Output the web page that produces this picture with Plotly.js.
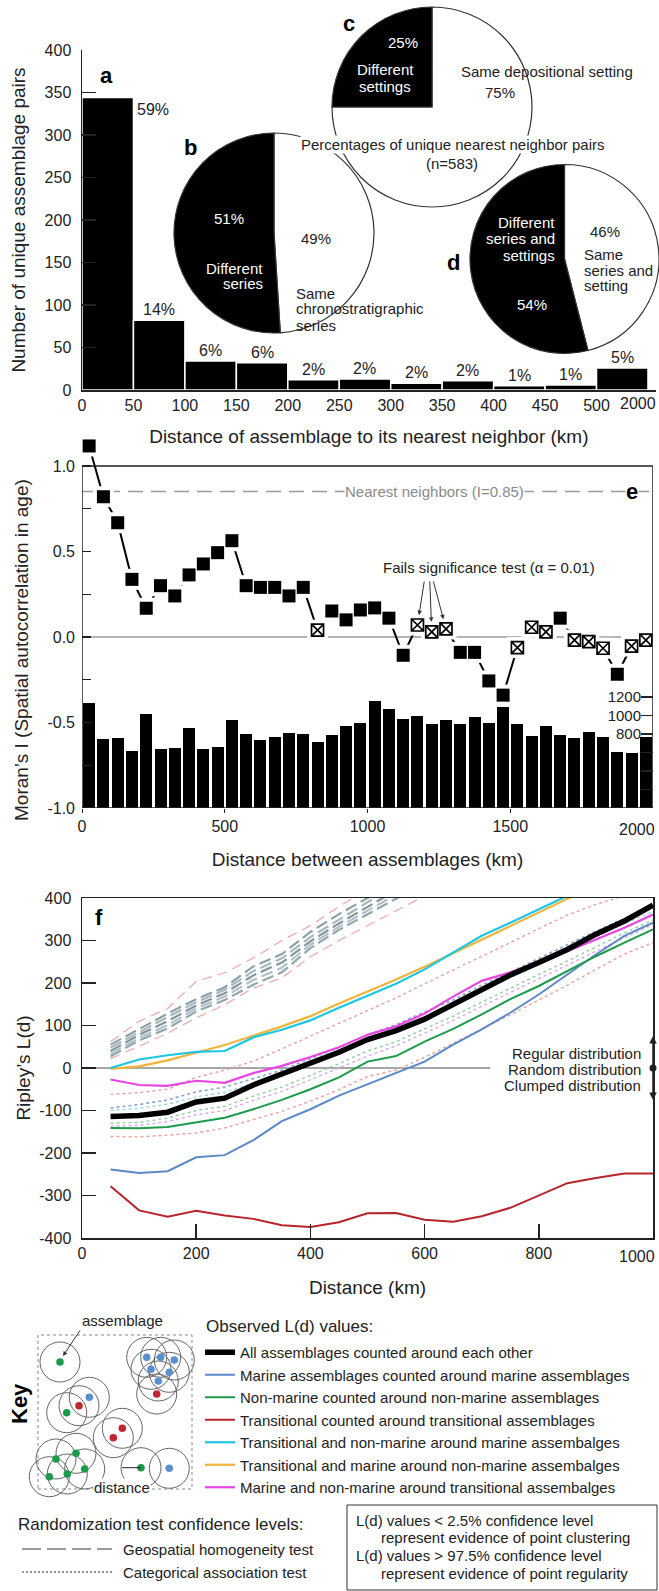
<!DOCTYPE html>
<html><head><meta charset="utf-8">
<script src="https://cdn.plot.ly/plotly-3.0.1.min.js"></script>
<style>html,body{margin:0;padding:0;background:#fff}#chart{width:659px;height:1591px}</style>
</head><body><div id="chart"></div>
<script>
// ---------------- DATA ----------------
// Panel a: nearest-neighbour distance histogram
const nnBinEdges = ['0','50','100','150','200','250','300','350','400','450','500','2000'];
const nnPairCounts = [344, 82, 34, 32, 12, 13, 8, 11, 5, 6, 26];
const nnPairPct = ['59%','14%','6%','6%','2%','2%','2%','2%','1%','1%','5%'];

// Panels b, c, d: pies (white "same" slice first, black "different" slice second)
const seriesPieLabels = ['Same chronostratigraphic series', 'Different series'];
const seriesPieValues = [49, 51];
const settingPieLabels = ['Same depositional setting', 'Different settings'];
const settingPieValues = [75, 25];
const bothPieLabels = ['Same series and setting', 'Different series and settings'];
const bothPieValues = [46, 54];

// Panel e: Moran's I correlogram
const moranDist = [25,75,125,175,225,275,325,375,425,475,525,575,625,675,725,775,825,875,925,975,
                   1025,1075,1125,1175,1225,1275,1325,1375,1425,1475,1525,1575,1625,1675,1725,1775,1825,1875,1925,1975];
const moranI = [1.117,0.82,0.668,0.337,0.168,0.30,0.24,0.363,0.427,0.493,
                0.563,0.30,0.29,0.29,0.24,0.29,0.04,0.152,0.10,0.158,
                0.17,0.11,-0.107,0.07,0.03,0.047,-0.09,-0.09,-0.257,-0.34,
                -0.062,0.057,0.03,0.11,-0.018,-0.027,-0.066,-0.218,-0.053,-0.018];
const moranFails = [0,0,0,0,0,0,0,0,0,0, 0,0,0,0,0,0,1,0,0,0,
                    0,0,0,1,1,1,0,0,0,0, 1,1,1,0,1,1,1,0,1,1];
const moranPairCounts = [1138,742,760,616,1016,638,652,861,634,656,
                         951,796,735,771,807,800,717,789,886,915,
                         1157,1067,962,995,908,951,908,980,915,1089,
                         908,778,886,789,753,825,764,602,591,771];
const moranDistTicks = [0, 500, 1000, 1500, 2000];
const moranDistLabels = ['0', '500', '1000', '1500', '2000'];
const pairAxisTicks = [0,200,400,600,800,1000,1200];
const pairAxisLabels = ['','','','','800','1000','1200'];

// Panel f: Ripley's L(d)
const ripleyDist = [50,100,150,200,250,300,350,400,450,500,550,600,650,700,750,800,850,900,950,1000];
const ripleyDistTicks = [0, 200, 400, 600, 800, 1000];
const ripleyDistLabels = ['0', '200', '400', '600', '800', '1000'];
const ldAll        = [-114,-112,-104,-80,-71,-40,-14,10,37,67,88,115,150,185,219,248,279,315,346,383];
const ldMarine     = [-239,-247,-243,-210,-205,-170,-125,-97,-65,-38,-12,15,55,91,130,173,220,267,311,342];
const ldNonMarine  = [-141,-142,-139,-128,-117,-97,-75,-50,-22,15,28,62,92,126,162,193,228,263,295,326];
const ldTransitional = [-278,-335,-350,-336,-347,-355,-370,-374,-363,-342,-341,-357,-362,-349,-329,-300,-271,-259,-248,-248];
const ldTransNonMarineAroundMarine = [0,20,30,38,40,72,90,112,142,170,198,232,272,311,342,373,405];
const ldTransMarineAroundNonMarine = [-2,4,18,36,54,76,98,122,152,180,208,238,270,303,335,366,398,428];
const ldMarineNonMarineAroundTrans = [-27,-40,-42,-30,-35,-12,5,26,49,78,98,128,168,205,225,248,275,303,330,361];
// geospatial homogeneity test envelopes (dashed)
const geoA = [55,92,128,162,190,239,268,320,362,400,440];
const geoB = [48,85,120,155,184,228,258,308,350,390,428];
const geoC = [40,78,110,147,176,218,248,298,340,380,418];
const geoD = [33,71,101,140,168,207,236,290,332,371,408];
const geoE = [27,65,93,133,160,196,225,282,325,362,398,435];
const geoHi = [62,110,140,204,224,259,300,335,380,420];
const geoLo = [22,51,82,118,149,188,212,262,300,335,370,405];
// categorical association test envelopes (dotted)
const catPinkHi = [-62,-58,-50,-22,-5,16,45,75,105,135,165,198,230,262,295,328,360,385,405];
const catBlue   = [-94,-86,-75,-56,-45,-25,-5,22,48,78,102,132,160,195,225,258,290,322,352,378];
const catCyan   = [-100,-95,-85,-68,-57,-36,-15,10,38,66,90,120,150,182,212,245,278,310,340,368];
const catGreen  = [-130,-128,-118,-100,-90,-66,-45,-18,10,40,62,92,122,155,188,220,252,285,318,348];
const catLilac  = [-137,-135,-126,-110,-100,-76,-55,-28,0,28,52,82,112,145,178,210,242,275,306,338];
const catPinkLo = [-161,-162,-158,-153,-141,-122,-102,-78,-51,-20,-5,25,58,92,125,160,195,232,268,295];

// ---------------- HELPERS ----------------
const W = 659, H = 1591;
const px = x => x / W;
const py = y => 1 - y / H;
const FONT = 'Liberation Sans, Arial, Helvetica, sans-serif';
const TXT = '#222';

function T(text, x, y, size, o) {
  o = o || {};
  return {
    text: o.bold ? '<b>' + text + '</b>' : text,
    x: px(x), y: py(y), xref: 'paper', yref: 'paper', showarrow: false,
    xanchor: o.xanchor || 'center', yanchor: 'middle',
    textangle: o.angle || 0,
    bgcolor: o.bg || 'rgba(0,0,0,0)', borderpad: 0,
    font: {family: FONT, size: size, color: o.color || TXT}
  };
}
// last tick label of an axis is drawn shifted inside the page, as in the original
const lastHidden = arr => arr.map((t, i) => i === arr.length - 1 ? '' : t);

const traces = [];
const annotations = [];
const shapes = [];

// ---------------- PANEL a ----------------
traces.push({
  type: 'bar', x: nnPairCounts.map((v, i) => i + 0.5), y: nnPairCounts, width: 1,
  marker: {color: '#000', line: {color: '#fff', width: 1.5}},
  xaxis: 'x', yaxis: 'y', showlegend: false, hoverinfo: 'skip'
});
nnPairPct.forEach((t, i) => {
  if (i === 0) {
    annotations.push({text: t, x: 1, y: nnPairCounts[0], xref: 'x', yref: 'y', showarrow: false,
      xanchor: 'left', yanchor: 'top', xshift: 2, yshift: -1, font: {family: FONT, size: 16, color: TXT}});
  } else {
    annotations.push({text: t, x: i + 0.5, y: nnPairCounts[i], xref: 'x', yref: 'y', showarrow: false,
      xanchor: 'center', yanchor: 'bottom', yshift: 0, font: {family: FONT, size: 16, color: TXT}});
  }
});
annotations.push(T(nnBinEdges[nnBinEdges.length - 1], 638, 403, 16));
annotations.push(T('a', 107, 75, 22, {bold: true, color: '#000'}));

// ---------------- PIES b c d ----------------
function pie(values, labels, cx, cy, r) {
  return {
    type: 'pie', values: values, labels: labels, sort: false, direction: 'clockwise', rotation: 0,
    textinfo: 'none', hoverinfo: 'skip', showlegend: false,
    marker: {colors: ['#fff', '#000'], line: {color: '#333', width: 1.2}},
    domain: {x: [px(cx - r), px(cx + r)], y: [py(cy + r), py(cy - r)]}
  };
}
traces.push(pie(seriesPieValues, seriesPieLabels, 274, 233, 100));
traces.push(pie(settingPieValues, settingPieLabels, 432, 107, 100));
traces.push(pie(bothPieValues, bothPieLabels, 565, 259, 95));

// b labels
annotations.push(T('b', 190, 148, 22, {bold: true, color: '#000'}));
annotations.push(T(seriesPieValues[1] + '%', 229, 218, 15, {color: '#fff'}));
annotations.push(T('Different', 264, 268, 15, {color: '#fff', xanchor: 'right'}));
annotations.push(T('series', 264, 284, 15, {color: '#fff', xanchor: 'right'}));
annotations.push(T(seriesPieValues[0] + '%', 316, 238, 15));
annotations.push(T('Same', 295, 293, 15, {xanchor: 'left'}));
annotations.push(T('chronostratigraphic', 295, 309, 15, {xanchor: 'left'}));
annotations.push(T('series', 295, 325, 15, {xanchor: 'left'}));
// c labels
annotations.push(T('c', 349, 24, 22, {bold: true, color: '#000'}));
annotations.push(T(settingPieValues[1] + '%', 403, 43, 15, {color: '#fff'}));
annotations.push(T('Different', 385, 70, 15, {color: '#fff'}));
annotations.push(T('settings', 385, 87, 15, {color: '#fff'}));
annotations.push(T('Same depositional setting', 547, 72, 15));
annotations.push(T(settingPieValues[0] + '%', 500, 93, 15));
annotations.push(T('Percentages of unique nearest neighbor pairs', 453, 145, 15, {bg: '#fff'}));
annotations.push(T('(n=583)', 452, 164, 15));
// d labels
annotations.push(T('d', 453, 262, 22, {bold: true, color: '#000'}));
annotations.push(T('Different', 556, 222, 15, {color: '#fff', xanchor: 'right'}));
annotations.push(T('series and', 556, 238, 15, {color: '#fff', xanchor: 'right'}));
annotations.push(T('settings', 556, 255, 15, {color: '#fff', xanchor: 'right'}));
annotations.push(T(bothPieValues[1] + '%', 532, 305, 15, {color: '#fff'}));
annotations.push(T(bothPieValues[0] + '%', 605, 231, 15));
annotations.push(T('Same', 583, 254, 15, {xanchor: 'left'}));
annotations.push(T('series and', 583, 270, 15, {xanchor: 'left'}));
annotations.push(T('setting', 583, 286, 15, {xanchor: 'left'}));

// ---------------- PANEL e ----------------
traces.push({
  type: 'bar', x: moranDist, y: moranPairCounts, width: 42, marker: {color: '#000'},
  xaxis: 'x2', yaxis: 'y2', showlegend: false, hoverinfo: 'skip'
});
traces.push({
  type: 'scatter', mode: 'lines', x: moranDist, y: moranI, line: {color: '#000', width: 2},
  xaxis: 'x2', yaxis: 'y3', showlegend: false, hoverinfo: 'skip', cliponaxis: false
});
traces.push({
  type: 'scatter', mode: 'markers', x: moranDist, y: moranI,
  marker: {symbol: 'square', size: 21, color: '#fff'},
  xaxis: 'x2', yaxis: 'y3', showlegend: false, hoverinfo: 'skip', cliponaxis: false
});
const sigIdx = moranI.map((v, i) => i).filter(i => !moranFails[i]);
const failIdx = moranI.map((v, i) => i).filter(i => moranFails[i]);
traces.push({
  type: 'scatter', mode: 'markers', x: sigIdx.map(i => moranDist[i]), y: sigIdx.map(i => moranI[i]),
  marker: {symbol: 'square', size: 13, color: '#000'},
  xaxis: 'x2', yaxis: 'y3', showlegend: false, hoverinfo: 'skip', cliponaxis: false
});
traces.push({
  type: 'scatter', mode: 'markers', x: failIdx.map(i => moranDist[i]), y: failIdx.map(i => moranI[i]),
  marker: {symbol: 'square-x', size: 12, color: '#fff', line: {color: '#000', width: 1.7}},
  xaxis: 'x2', yaxis: 'y3', showlegend: false, hoverinfo: 'skip', cliponaxis: false
});
shapes.push({type: 'line', xref: 'x2', yref: 'y3', x0: 0, x1: 2000, y0: 0, y1: 0, layer: 'below',
  line: {color: '#9a9a9a', width: 1.5}});
shapes.push({type: 'line', xref: 'x2', yref: 'y3', x0: 0, x1: 2000, y0: 0.85, y1: 0.85, layer: 'below',
  line: {color: '#9a9a9a', width: 1.5, dash: '15px,8px'}});
shapes.push({type: 'rect', xref: 'x2', yref: 'y3', x0: 0, x1: 2000, y0: -1, y1: 1, layer: 'above',
  line: {color: '#222', width: 1.5}});
annotations.push(T('Nearest neighbors (I=0.85)', 434, 492, 15, {color: '#8a8a8a', bg: '#fff'}));
annotations.push(T('e', 632, 491, 22, {bold: true, color: '#000', bg: '#fff'}));
annotations.push(T('Fails significance test (α = 0.01)', 489, 568, 15));
const arrowTails = [[7, -45], [-2, -52], [-13, -49]];
[23, 24, 25].forEach((idx, k) => {
  annotations.push({text: '', x: moranDist[idx], y: moranI[idx], xref: 'x2', yref: 'y3',
    showarrow: true, arrowhead: 2, arrowsize: 0.9, arrowwidth: 1, arrowcolor: '#333', standoff: 10,
    ax: arrowTails[k][0], ay: arrowTails[k][1]});
});
annotations.push(T(moranDistLabels[moranDistLabels.length - 1], 637, 829, 16));
annotations.push(T('Moran’s I (Spatial autocorrelation in age)', 21, 650, 19, {angle: -90}));

// ---------------- PANEL f ----------------
function ld(y, color, width, dash, name, rank) {
  const t = {
    type: 'scatter', mode: 'lines', x: ripleyDist.slice(0, y.length), y: y,
    line: {color: color, width: width, dash: dash || 'solid'},
    xaxis: 'x3', yaxis: 'y4', hoverinfo: 'skip', showlegend: !!name
  };
  if (name) { t.name = name; t.legendrank = rank; }
  return t;
}
// geospatial homogeneity (dashed)
traces.push(ld(geoHi, '#e9aaa8', 1.2, '10px,6px'));
traces.push(ld(geoLo, '#e9aaa8', 1.2, '10px,6px'));
traces.push(ld(geoA, '#8ea3a6', 2.2, '12px,5px'));
traces.push(ld(geoB, '#a9b5c4', 2.2, '12px,5px'));
traces.push(ld(geoC, '#7f9898', 2.2, '12px,5px'));
traces.push(ld(geoD, '#b3bfcc', 2.2, '12px,5px'));
traces.push(ld(geoE, '#93a7ae', 2.2, '12px,5px'));
// categorical association (dotted)
traces.push(ld(catPinkHi, '#eba0a0', 1.4, 'dot'));
traces.push(ld(catBlue, '#8aa3d6', 1.6, 'dot'));
traces.push(ld(catCyan, '#93d7e3', 1.4, 'dot'));
traces.push(ld(catGreen, '#92cfa3', 1.4, 'dot'));
traces.push(ld(catLilac, '#d9a9e6', 1.4, 'dot'));
traces.push(ld(catPinkLo, '#eba0a0', 1.4, 'dot'));
// observed
traces.push(ld(ldTransitional, '#b8242c', 2, 'solid', 'Transitional counted around transitional assemblages', 4));
traces.push(ld(ldMarine, '#5a88c8', 2, 'solid', 'Marine assemblages counted around marine assemblages', 2));
traces.push(ld(ldNonMarine, '#1c9b4b', 2, 'solid', 'Non-marine counted around non-marine assemblages', 3));
traces.push(ld(ldTransMarineAroundNonMarine, '#f0b43a', 2.2, 'solid', 'Transitional and marine around non-marine assembalges', 6));
traces.push(ld(ldTransNonMarineAroundMarine, '#1cc6e4', 2.2, 'solid', 'Transitional and non-marine around marine assembalges', 5));
traces.push(ld(ldMarineNonMarineAroundTrans, '#e845e4', 2.2, 'solid', 'Marine and non-marine around transitional assembalges', 7));
traces.push(ld(ldAll, '#000000', 5.5, 'solid', 'All assemblages counted around each other', 1));

shapes.push({type: 'line', xref: 'x3', yref: 'y4', x0: 0, x1: 715, y0: 0, y1: 0, layer: 'below',
  line: {color: '#8a8a8a', width: 1.5}});
annotations.push(T(ripleyDistLabels[ripleyDistLabels.length - 1], 637, 1256, 16));
annotations.push(T('f', 99, 917, 22, {bold: true, color: '#000'}));
annotations.push(T('Regular distribution', 642, 1053, 15, {xanchor: 'right'}));
annotations.push(T('Random distribution', 642, 1069, 15, {xanchor: 'right'}));
annotations.push(T('Clumped distribution', 642, 1085, 15, {xanchor: 'right'}));
annotations.push({text: '', x: px(653), y: py(1036), xref: 'paper', yref: 'paper', showarrow: true,
  arrowhead: 2, arrowsize: 1, arrowwidth: 1.5, arrowcolor: '#222', ax: 0, ay: 32});
annotations.push({text: '', x: px(653), y: py(1100), xref: 'paper', yref: 'paper', showarrow: true,
  arrowhead: 2, arrowsize: 1, arrowwidth: 1.5, arrowcolor: '#222', ax: 0, ay: -32});
shapes.push({type: 'circle', xref: 'paper', yref: 'paper', x0: px(649.5), x1: px(656.5), y0: py(1071.5), y1: py(1064.5),
  fillcolor: '#222', line: {color: '#222', width: 0}});

// ---------------- KEY ----------------
annotations.push(T('Key', 19, 1404, 22, {bold: true, color: '#000', angle: -90}));
shapes.push({type: 'rect', xref: 'paper', yref: 'paper', x0: px(38), x1: px(192), y0: py(1489), y1: py(1335),
  line: {color: '#888', width: 1, dash: 'dot'}});
const keyGreen = [[60,1362],[66.7,1412.7],[56,1459],[76,1453.3],[49.3,1476.7],[67.3,1474],[84.7,1469],[141,1467.7]];
const keyBlue = [[146.7,1357.3],[160.7,1357.3],[174.3,1360],[151,1369.3],[169.3,1372.3],[158.3,1381],[89.3,1397.3],[169.3,1468.3]];
const keyRed = [[156.7,1394],[79,1405.7],[122.3,1428.3],[113.3,1437.7]];
const allKey = keyGreen.concat(keyBlue, keyRed);
allKey.forEach(p => {
  const r = 20;
  shapes.push({type: 'circle', xref: 'paper', yref: 'paper', x0: px(p[0] - r), x1: px(p[0] + r),
    y0: py(p[1] + r), y1: py(p[1] - r), line: {color: '#666', width: 1}});
});
function dots(list, col) {
  list.forEach(p => {
    const r = 3.8;
    shapes.push({type: 'circle', xref: 'paper', yref: 'paper', x0: px(p[0] - r), x1: px(p[0] + r),
      y0: py(p[1] + r), y1: py(p[1] - r), fillcolor: col, line: {color: col, width: 0}});
  });
}
dots(keyGreen, '#1c9b4b'); dots(keyBlue, '#5a8fd0'); dots(keyRed, '#c0262d');
shapes.push({type: 'line', xref: 'paper', yref: 'paper', x0: px(122), x1: px(141), y0: py(1467.7), y1: py(1467.7),
  line: {color: '#222', width: 1}});
annotations.push(T('distance', 122, 1487, 15, {bg: '#fff'}));
annotations.push(T('assemblage', 123, 1320, 15));
annotations.push({text: '', x: px(63), y: py(1356), xref: 'paper', yref: 'paper', showarrow: true,
  arrowhead: 2, arrowsize: 0.9, arrowwidth: 1, arrowcolor: '#333', ax: 18, ay: -27});
annotations.push(T('Observed L(d) values:', 205, 1326, 17, {xanchor: 'left'}));

annotations.push(T('Randomization test confidence levels:', 17, 1524, 17, {xanchor: 'left'}));
shapes.push({type: 'line', xref: 'paper', yref: 'paper', x0: px(22), x1: px(112), y0: py(1549), y1: py(1549),
  line: {color: '#333', width: 1.2, dash: '19px,6px'}});
shapes.push({type: 'line', xref: 'paper', yref: 'paper', x0: px(22), x1: px(112), y0: py(1572), y1: py(1572),
  line: {color: '#333', width: 1.2, dash: '2px,2px'}});
annotations.push(T('Geospatial homogeneity test', 122, 1549, 15, {xanchor: 'left'}));
annotations.push(T('Categorical association test', 122, 1572, 15, {xanchor: 'left'}));
shapes.push({type: 'rect', xref: 'paper', yref: 'paper', x0: px(347), x1: px(657), y0: py(1590), y1: py(1505),
  line: {color: '#333', width: 1}});
annotations.push(T('L(d) values &lt; 2.5% confidence level', 355, 1520, 15, {xanchor: 'left'}));
annotations.push(T('represent evidence of point clustering', 380, 1537, 15, {xanchor: 'left'}));
annotations.push(T('L(d) values &gt; 97.5% confidence level', 355, 1555, 15, {xanchor: 'left'}));
annotations.push(T('represent evidence of point regularity', 380, 1573, 15, {xanchor: 'left'}));

// ---------------- LAYOUT ----------------
const tickf = s => ({family: FONT, size: s, color: TXT});
const layout = {
  width: W, height: H, margin: {l: 0, r: 0, t: 0, b: 0},
  paper_bgcolor: '#fff', plot_bgcolor: 'rgba(0,0,0,0)',
  font: {family: FONT, color: TXT}, hovermode: false, bargap: 0,
  xaxis: {
    domain: [px(82), px(655.7)], range: [0, 11.15], anchor: 'y', fixedrange: true,
    showline: true, linecolor: '#222', linewidth: 1.5, ticks: '', showgrid: false, zeroline: false,
    tickmode: 'array', tickvals: nnBinEdges.map((v, i) => i), ticktext: lastHidden(nnBinEdges), tickfont: tickf(16),
    title: {text: 'Distance of assemblage to its nearest neighbor (km)', font: tickf(19), standoff: 17}
  },
  yaxis: {
    domain: [py(390), py(50)], range: [0, 400], anchor: 'x', fixedrange: true,
    showline: true, linecolor: '#222', linewidth: 1.5, ticks: 'inside', ticklen: 14, tickwidth: 1.5, tickcolor: '#222',
    tickmode: 'linear', tick0: 0, dtick: 50, showgrid: false, zeroline: false, tickfont: tickf(16), ticklabelstandoff: 6,
    title: {text: 'Number of unique assemblage pairs', font: tickf(19), standoff: 14}
  },
  xaxis2: {
    domain: [px(82), px(653)], range: [0, 2000], anchor: 'y2', fixedrange: true,
    showline: false, showgrid: false, zeroline: false, ticks: 'outside', ticklen: 4, tickcolor: '#222',
    tickmode: 'array', tickvals: moranDistTicks, ticktext: lastHidden(moranDistLabels), tickfont: tickf(16),
    title: {text: 'Distance between assemblages (km)', font: tickf(19), standoff: 18}
  },
  yaxis2: {
    domain: [py(808), py(438.6)], range: [0, 3993.5], anchor: 'x2', side: 'right', fixedrange: true,
    showline: false, showgrid: false, zeroline: false, ticks: 'inside', ticklen: 12, tickwidth: 1.2, tickcolor: '#222',
    tickmode: 'array', tickvals: pairAxisTicks, ticktext: pairAxisLabels, ticklabelposition: 'inside', tickfont: tickf(15)
  },
  yaxis3: {
    overlaying: 'y2', anchor: 'x2', side: 'left', range: [-1, 1.16], fixedrange: true,
    showline: false, showgrid: false, zeroline: false, ticks: 'inside', ticklen: 9, tickwidth: 1.2, tickcolor: '#222',
    tickmode: 'array', tickvals: [-1, -0.75, -0.5, -0.25, 0, 0.25, 0.5, 0.75, 1],
    ticktext: ['-1.0', '', '-0.5', '', '0.0', '', '0.5', '', '1.0'], tickfont: tickf(16), ticklabelstandoff: 6
  },
  xaxis3: {
    domain: [px(82), px(653)], range: [0, 1000], anchor: 'y4', fixedrange: true,
    showline: true, mirror: true, linecolor: '#222', linewidth: 1.5, ticks: 'inside', ticklen: 14, tickwidth: 1.5, tickcolor: '#222',
    showgrid: false, zeroline: false, tickmode: 'array', tickvals: ripleyDistTicks, ticktext: lastHidden(ripleyDistLabels),
    tickfont: tickf(16),
    title: {text: 'Distance (km)', font: tickf(19), standoff: 20}
  },
  yaxis4: {
    domain: [py(1238), py(898)], range: [-400, 400], anchor: 'x3', fixedrange: true,
    showline: true, mirror: true, linecolor: '#222', linewidth: 1.5, ticks: 'inside', ticklen: 14, tickwidth: 1.5, tickcolor: '#222',
    showgrid: false, zeroline: false, tickmode: 'array',
    tickvals: [-400, -300, -200, -100, 0, 100, 200, 300, 400],
    ticktext: ['-400', '-300', '-200', '-100', '0', '100', '200', '300', '400'], tickfont: tickf(16), ticklabelstandoff: 6,
    title: {text: 'Ripley’s L(d)', font: tickf(19), standoff: 3}
  },
  legend: {
    x: px(200), y: py(1336), xanchor: 'left', yanchor: 'top', orientation: 'v',
    font: {family: FONT, size: 15, color: TXT}, bgcolor: 'rgba(0,0,0,0)', borderwidth: 0,
    itemwidth: 30, tracegroupgap: 0, traceorder: 'normal'
  },
  showlegend: true,
  annotations: annotations,
  shapes: shapes
};

Plotly.newPlot('chart', traces, layout, {staticPlot: true, displayModeBar: false});
</script>
</body></html>
